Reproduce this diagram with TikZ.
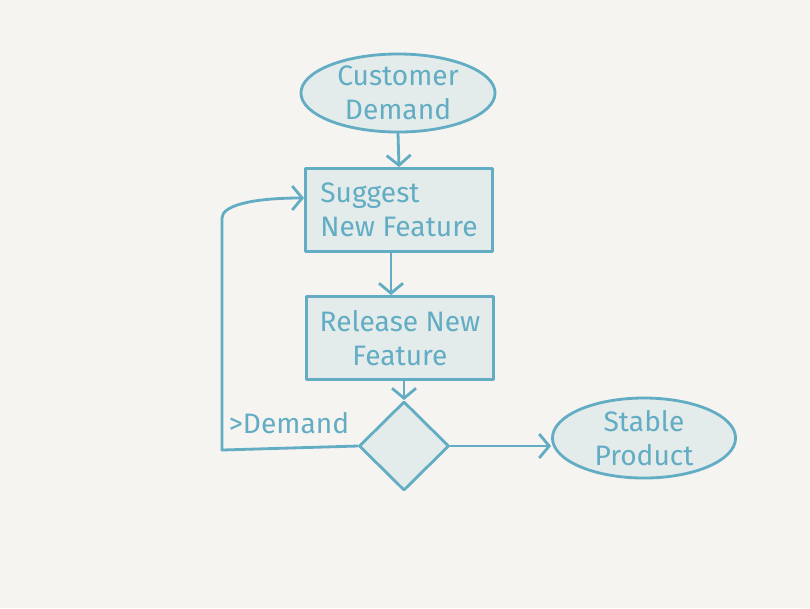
\documentclass[tikz,border=0pt]{standalone}
\usepackage{fontspec}
\setmainfont{Fira Sans}
\usetikzlibrary{arrows.meta,shapes.geometric}
\definecolor{sketchblue}{RGB}{98,172,196}
\definecolor{sketchfill}{RGB}{227,236,234}
\definecolor{paper}{RGB}{245,244,240}
\tikzset{
  sketch/.style={
    line width=0.8pt,
    draw=sketchblue,
    line cap=round,
    line join=round
  },
  label-text/.style={
    text=sketchblue,
    font=\fontsize{8}{9.6}\selectfont
  },
  terminal/.style={
    sketch,
    label-text,
    ellipse,
    fill=sketchfill,
    inner sep=0pt,
    align=center
  },
  process/.style={
    sketch,
    label-text,
    rectangle,
    fill=sketchfill,
    minimum width=1.87cm,
    minimum height=0.83cm,
    inner sep=0pt
  },
  decision/.style={
    sketch,
    diamond,
    fill=sketchfill,
    minimum width=0.9cm,
    minimum height=0.89cm,
    inner sep=0pt
  },
  flow/.style={
    sketch,
    -{Straight Barb[length=1mm,width=2.4mm]}
  }
}

\begin{document}
\begin{tikzpicture}[x=0.01cm, y=-0.01cm]
  \fill[paper] (0,0) rectangle (810,608);
  \useasboundingbox (0,0) rectangle (810,608);
  % shapes
  \node[terminal, minimum width=1.94cm, minimum height=0.78cm]
    (demand) at (398,93) {Customer\\Demand};
  \node[process, align=left] (suggest) at (399,210) {Suggest\\New Feature};
  \node[process, align=center] (release) at (400,338) {Release New\\Feature};
  \node[decision] (check) at (404,446) {};
  \node[terminal, minimum width=1.83cm, minimum height=0.8cm]
    (stable) at (644,438) {Stable\\Product};
  \node[label-text] (more) at (289,423) {>Demand};
  % connectors
  \coordinate (loopcorner) at (222,450);
  \coordinate (looptop) at (222,218);
  \draw[flow] (demand.south) -- (suggest.north);
  \draw[flow] (suggest.south -| 391,0) -- (release.north -| 391,0);
  \draw[flow] (release.south -| check) -- (check.north);
  \draw[flow] (check.east) -- (stable.west |- check.east);
  \draw[flow] (check.west) -- (loopcorner) -- (looptop)
    .. controls (222,206) and (250,198) .. ([yshift=0.12cm]suggest.west);
\end{tikzpicture}
\end{document}
